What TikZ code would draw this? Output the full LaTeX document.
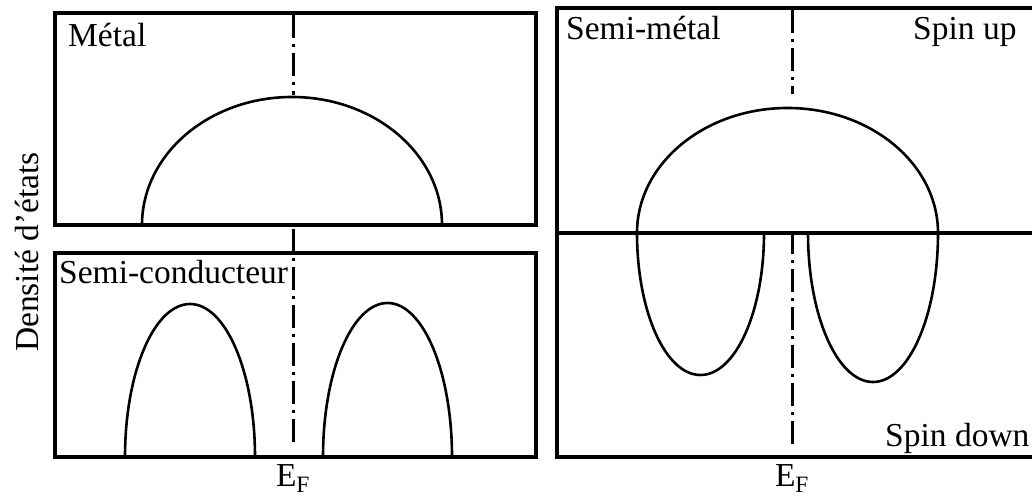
\documentclass[tikz,border=0pt]{standalone}
\usepackage{fontspec}
\setmainfont{Liberation Serif}
\usetikzlibrary{positioning}
\tikzset{
  frm/.style={draw,line width=4.5pt},
  band/.style={draw,line width=2.6pt},
  efl/.style={draw,line width=3pt,dash pattern=on 23pt off 6pt on 3pt off 6pt},
  lbl/.style={inner sep=0pt,font=\fontsize{33.5}{40}\selectfont},
}

\begin{document}
\begin{tikzpicture}[x=1pt,y=1pt]
  \path[use as bounding box,clip] (0,0) rectangle (1032,497);
  % frames
  \draw[frm] (55,272) rectangle (536,484);
  \draw[frm] (55,40) rectangle (536,244);
  \draw[frm] (1045,489) -| (557,40) -- (1045,40);
  \draw[frm] (557,264) -- (1045,264);
  % Fermi level
  \coordinate (efL) at (293,49);
  \coordinate (efR) at (792,49);
  \draw[efl] (293,482) -- (293,402);
  \draw[efl] (293,268) -- (efL);
  \draw[efl] (792,487) -- (792,403);
  \draw[efl] (792,266) -- (efR);
  % metal
  \draw[band] (142,272) arc[start angle=180,end angle=0,x radius=150pt,y radius=128pt];
  % semiconductor
  \draw[band] (125,40) arc[start angle=180,end angle=0,x radius=65pt,y radius=153pt];
  \draw[band] (323,40) arc[start angle=180,end angle=0,x radius=64.5pt,y radius=154pt];
  % half-metal
  \draw[band] (637,264) arc[start angle=180,end angle=0,x radius=150.5pt,y radius=125pt];
  \draw[band] (637,264) arc[start angle=180,end angle=360,x radius=63.5pt,y radius=142pt];
  \draw[band] (808,264) arc[start angle=180,end angle=360,x radius=65pt,y radius=149pt];
  % labels
  \node[lbl,anchor=base west] (met) at (68,450) {Métal};
  \node[lbl,anchor=base west] (sc) at (59,213) {Semi-conducteur};
  \node[lbl,anchor=base west] (hm) at (566,457) {Semi-métal};
  \node[lbl,anchor=base west] (up) at (913,457) {Spin up};
  \node[lbl,anchor=base west] (dn) at (885,50) {Spin down};
  \node[lbl,below=16pt of efL] (efLlbl) {E\textsubscript{F}};
  \node[lbl,below=16pt of efR] (efRlbl) {E\textsubscript{F}};
  \node[lbl,rotate=90] (dos) at (27,245) {Densité d’états};
\end{tikzpicture}
\end{document}
